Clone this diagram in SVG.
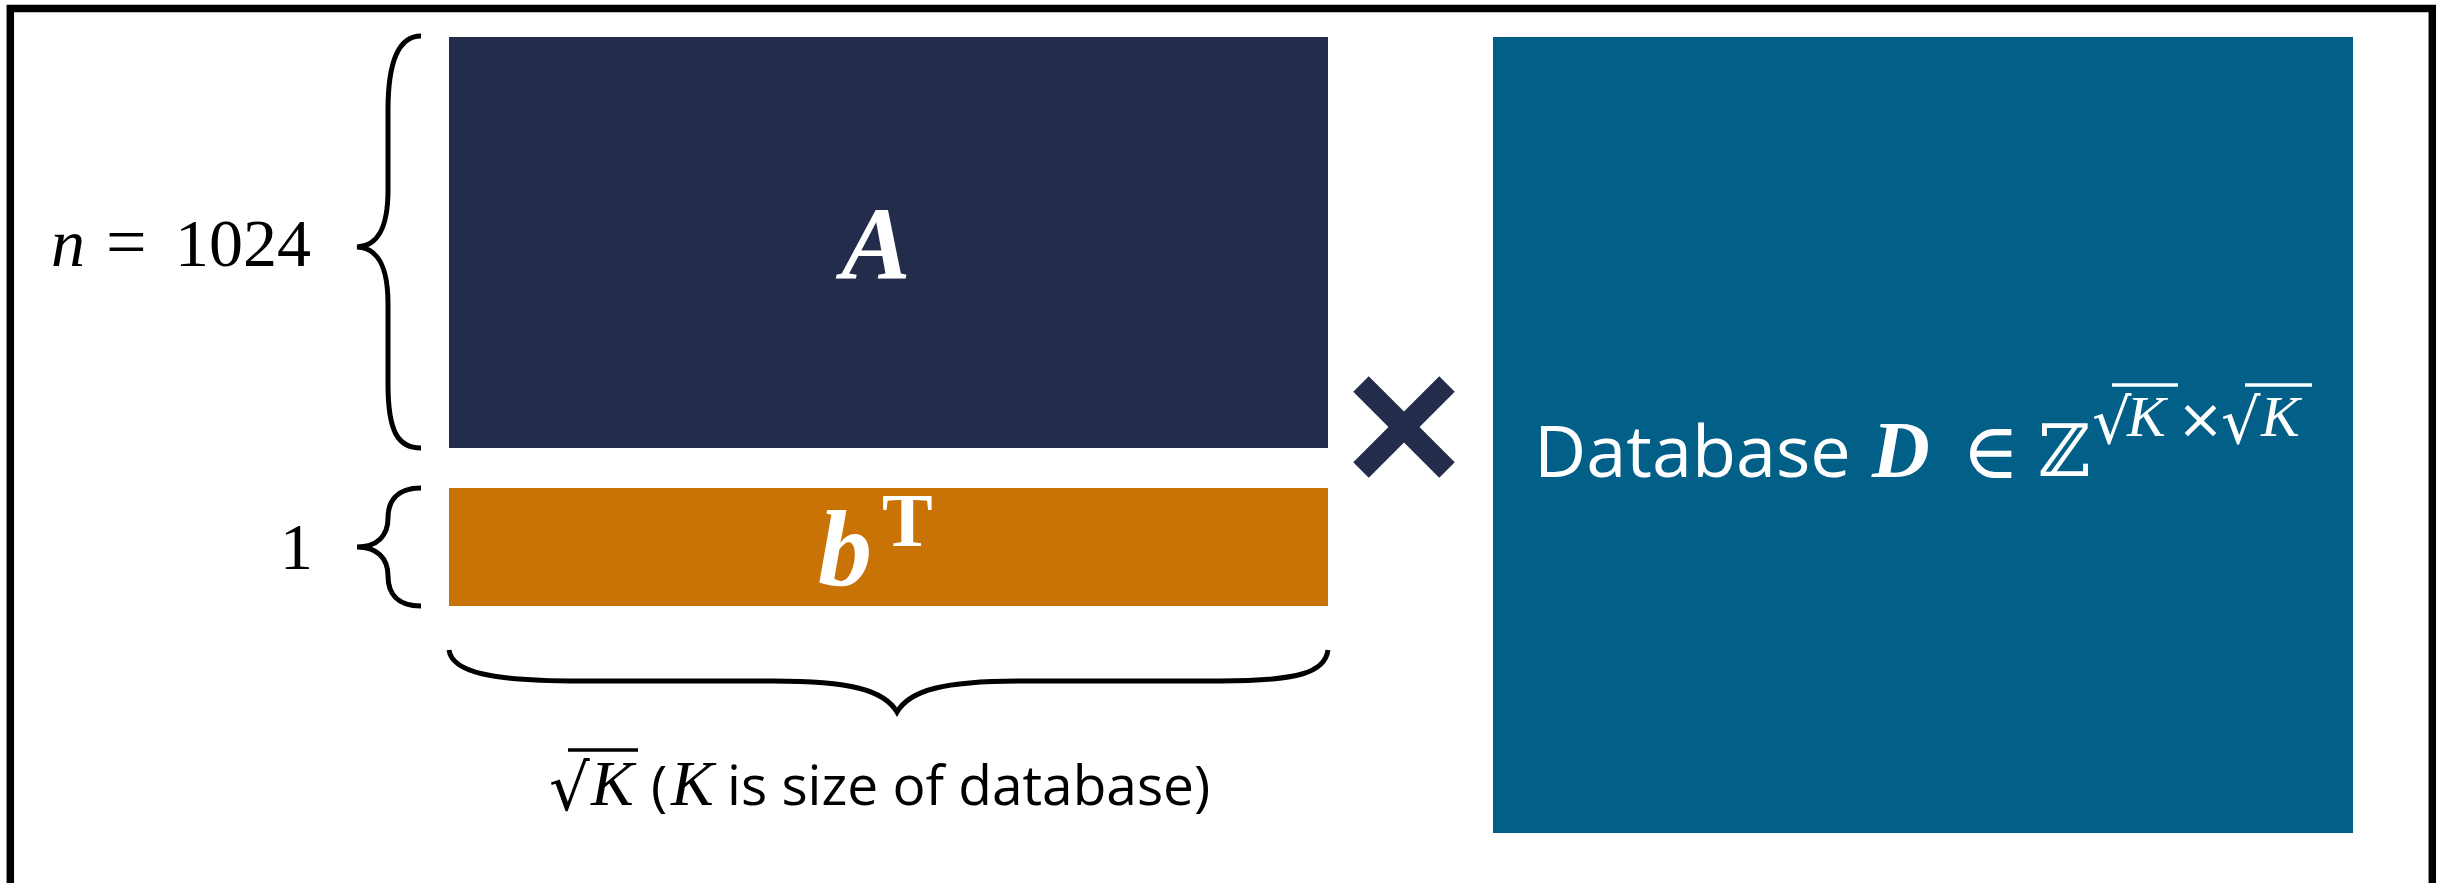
<svg xmlns="http://www.w3.org/2000/svg" width="2445" height="883" viewBox="0 0 2445 883">
  <style>
    .brace { fill: none; stroke: #000; stroke-width: 5; stroke-linecap: butt; }
    .math { font-family: "Liberation Serif", "DejaVu Serif", serif; }
    .mathbi { font-family: "Liberation Serif", "DejaVu Serif", serif; font-weight: bold; font-style: italic; }
    .mathi { font-family: "Liberation Serif", "DejaVu Serif", serif; font-style: italic; }
    .sans { font-family: "Open Sans", "Liberation Sans", sans-serif; }
    .sym { font-family: "DejaVu Serif", "Liberation Serif", serif; }
    .symsans { font-family: "DejaVu Sans", "Liberation Sans", sans-serif; }
    .white { fill: #ffffff; }
  </style>
  <rect x="0" y="0" width="2445" height="883" fill="#ffffff"/>
  <rect id="frame" x="10.3" y="8.5" width="2422" height="900" fill="none" stroke="#000" stroke-width="7.5"/>

  <g id="node-A">
    <rect x="449" y="37" width="879" height="411" fill="#242C4B"/>
    <text class="mathbi white" x="876" y="279" font-size="104" text-anchor="middle">A</text>
  </g>

  <g id="node-b">
    <rect x="449" y="488" width="879" height="118" fill="#C97307"/>
    <text class="mathbi white" x="818" y="585" font-size="108">b</text>
    <text class="math white" x="882" y="546" font-size="76" font-weight="bold">T</text>
  </g>

  <g id="op-times">
    <line x1="1361" y1="384" x2="1447" y2="470" stroke="#242C4B" stroke-width="22"/>
    <line x1="1447" y1="384" x2="1361" y2="470" stroke="#242C4B" stroke-width="22"/>
  </g>

  <g id="node-D">
    <rect x="1493" y="37" width="860" height="796" fill="#026088"/>
    <text class="sans white" x="1534" y="477" font-size="72">Database</text>
    <text class="mathbi white" x="1872" y="477" font-size="80">D</text>
    <text class="sym white" x="1962" y="478" font-size="78">∈</text>
    <text class="sym white" x="2038" y="476" font-size="72">ℤ</text>
    <text class="sym white" x="2092" y="443" font-size="62">√</text>
    <line x1="2112" y1="385" x2="2178" y2="385" stroke="#fff" stroke-width="3.5"/>
    <text class="mathi white" x="2127" y="436" font-size="58">K</text>
    <text class="symsans white" x="2177" y="438" font-size="56">×</text>
    <text class="sym white" x="2221" y="443" font-size="62">√</text>
    <line x1="2245" y1="385" x2="2312" y2="385" stroke="#fff" stroke-width="3.5"/>
    <text class="mathi white" x="2261" y="436" font-size="58">K</text>
  </g>

  <g id="braces">
    <path class="brace" d="M421,36 C398,36 388,62 388,110 L388,190 C388,228 378,246 357,247 C378,248 388,266 388,304 L388,384 C388,432 398,448 421,448"/>
    <path class="brace" d="M421,488 C396,488 388,502 388,518 C388,536 377,547 357,547 C377,547 388,558 388,576 C388,592 396,606 421,606"/>
    <path class="brace" d="M449,650 C452,672 490,681 580,681 L773,681 C850,681 884,690 897,712 C910,690 944,681 1021,681 L1220,681 C1300,681 1325,672 1328,650"/>
  </g>

  <g id="labels">
    <text class="mathi" x="51" y="265.5" font-size="68">n</text>
    <text class="math" x="106" y="265.5" font-size="72">=</text>
    <text class="math" x="175" y="265.5" font-size="68">1024</text>
    <text class="math" x="280" y="569" font-size="66">1</text>
    <text class="sym" x="549" y="810" font-size="64">√</text>
    <line x1="568" y1="750" x2="638" y2="750" stroke="#000" stroke-width="3.5"/>
    <text class="mathi" x="591" y="805" font-size="64">K</text>
    <text class="sans" x="651" y="805" font-size="55">(</text>
    <text class="mathi" x="671" y="805" font-size="64">K</text>
    <text class="sans" x="727" y="805" font-size="55">is size of database)</text>
  </g>
</svg>
